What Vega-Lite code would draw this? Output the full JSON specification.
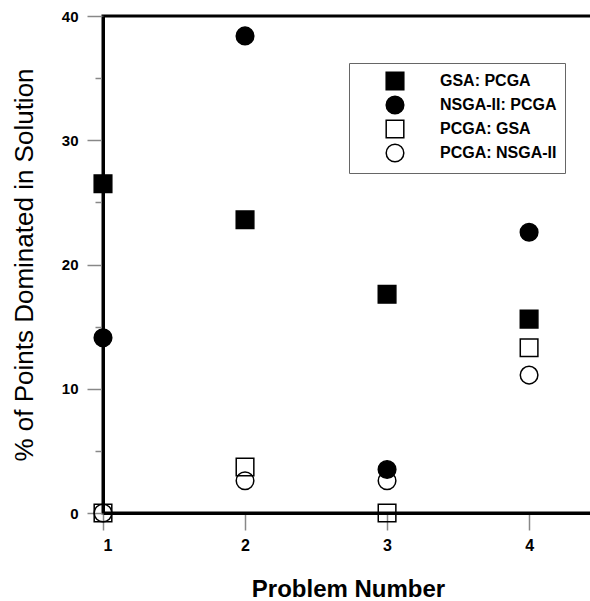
{
  "$schema": "https://vega.github.io/schema/vega-lite/v6.json",
  "width": 490,
  "height": 497,
  "autosize": "none",
  "padding": {"left": 103, "top": 16, "right": 0, "bottom": 88},
  "background": "white",
  "data": {
    "values": [
      {"problem": 1, "series": "GSA: PCGA", "pct": 26.5},
      {"problem": 1, "series": "NSGA-II: PCGA", "pct": 14.1},
      {"problem": 1, "series": "PCGA: GSA", "pct": 0},
      {"problem": 1, "series": "PCGA: NSGA-II", "pct": 0},
      {"problem": 2, "series": "GSA: PCGA", "pct": 23.6},
      {"problem": 2, "series": "NSGA-II: PCGA", "pct": 38.4},
      {"problem": 2, "series": "PCGA: GSA", "pct": 3.7},
      {"problem": 2, "series": "PCGA: NSGA-II", "pct": 2.6},
      {"problem": 3, "series": "GSA: PCGA", "pct": 17.6},
      {"problem": 3, "series": "NSGA-II: PCGA", "pct": 3.5},
      {"problem": 3, "series": "PCGA: GSA", "pct": 0},
      {"problem": 3, "series": "PCGA: NSGA-II", "pct": 2.6},
      {"problem": 4, "series": "GSA: PCGA", "pct": 15.6},
      {"problem": 4, "series": "NSGA-II: PCGA", "pct": 22.6},
      {"problem": 4, "series": "PCGA: GSA", "pct": 13.3},
      {"problem": 4, "series": "PCGA: NSGA-II", "pct": 11.1}
    ]
  },
  "mark": {"type": "point", "strokeWidth": 1.5, "size": 310, "opacity": 1},
  "encoding": {
    "x": {
      "field": "problem", "type": "quantitative",
      "scale": {"domain": [1, 4.45], "nice": false, "zero": false},
      "axis": {
        "values": [1, 1.5, 2, 2.5, 3, 3.5, 4],
        "format": "d",
        "labelExpr": "datum.value % 1 === 0 ? datum.label : ''",
        "tickSize": {"condition": {"test": "datum.value % 1 !== 0", "value": 8}, "value": 17},
        "labelFontSize": 16,
        "labelPadding": 7,
        "title": "Problem Number",
        "titleFontSize": 24,
        "titlePadding": 24
      }
    },
    "y": {
      "field": "pct", "type": "quantitative",
      "scale": {"domain": [0, 40], "nice": false},
      "axis": {
        "values": [0, 5, 10, 15, 20, 25, 30, 35, 40],
        "labelExpr": "datum.value % 10 === 0 ? datum.label : ''",
        "tickSize": {"condition": {"test": "datum.value % 10 !== 0", "value": 8}, "value": 16},
        "labelFontSize": 15,
        "labelPadding": 9,
        "title": "% of Points Dominated in Solution",
        "titleFontWeight": "normal",
        "titleFontSize": 26,
        "titlePadding": 24
      }
    },
    "shape": {
      "field": "series", "type": "nominal",
      "scale": {"domain": ["GSA: PCGA", "NSGA-II: PCGA", "PCGA: GSA", "PCGA: NSGA-II"], "range": ["square", "circle", "square", "circle"]},
      "legend": {"title": null}
    },
    "fill": {
      "field": "series", "type": "nominal",
      "scale": {"domain": ["GSA: PCGA", "NSGA-II: PCGA", "PCGA: GSA", "PCGA: NSGA-II"], "range": ["black", "black", "transparent", "transparent"]},
      "legend": {"title": null}
    },
    "stroke": {
      "field": "series", "type": "nominal",
      "scale": {"domain": ["GSA: PCGA", "NSGA-II: PCGA", "PCGA: GSA", "PCGA: NSGA-II"], "range": ["black", "black", "black", "black"]},
      "legend": {"title": null}
    }
  },
  "config": {
    "view": {"stroke": "black", "strokeWidth": 3},
    "axis": {
      "grid": false,
      "domainColor": "black",
      "domainWidth": 3,
      "tickColor": "#888888",
      "tickWidth": 1.5,
      "labelFont": "Liberation Sans",
      "labelFontWeight": "bold",
      "labelColor": "black",
      "titleFont": "Liberation Sans",
      "titleFontWeight": "bold",
      "titleColor": "black"
    },
    "legend": {
      "orient": "none",
      "legendX": 246,
      "legendY": 47,
      "strokeColor": "#666666",
      "fillColor": "white",
      "padding": 8,
      "symbolSize": 310,
      "symbolStrokeWidth": 1.5,
      "symbolOffset": 28,
      "labelOffset": 35,
      "labelFont": "Liberation Sans",
      "labelFontWeight": "bold",
      "labelFontSize": 16,
      "labelColor": "black",
      "rowPadding": 0
    }
  }
}
